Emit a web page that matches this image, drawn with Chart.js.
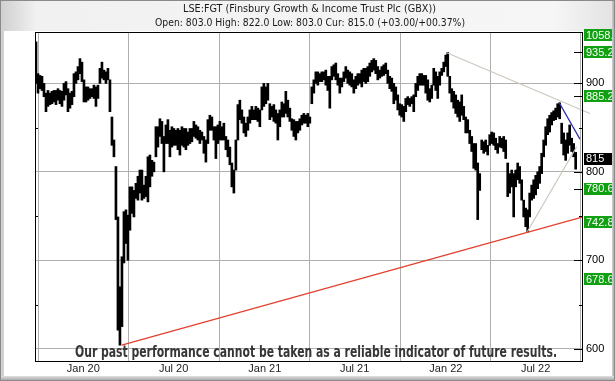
<!DOCTYPE html>
<html>
<head>
<meta charset="utf-8">
<script src="https://cdn.jsdelivr.net/npm/chart.js@4.4.0/dist/chart.umd.min.js"></script>
<style>
  html, body { margin: 0; padding: 0; background: #fff; }
  canvas { display: block; }
</style>
</head>
<body>
<canvas id="chart" width="615" height="381"></canvas>
<script>
// x = days from 1 Jan 2020, one high/low sample roughly every 4 days
const firstDay = -95.4;
const dayStep = 4.03;

const highs = [
  947,911,909,908,900,889,892,889,891,892,892,894,892,891,900,902,894,889,891,911,
  913,919,928,924,904,896,896,894,894,898,896,898,917,924,915,913,917,904,862,836,
  806,749,670,704,755,757,751,783,783,779,787,795,802,802,785,
  795,817,819,813,811,851,851,860,857,840,853,859,847,851,849,847,849,847,851,849,
  849,845,849,849,857,853,851,847,845,840,836,859,864,862,851,851,853,857,851,855,
  840,836,828,810,802,836,876,881,870,862,855,862,870,874,870,
  874,872,870,896,900,896,900,877,874,876,870,866,870,879,877,891,881,872,860,859,
  857,857,860,864,866,864,866,862,896,904,913,913,911,913,913,915,908,908,919,921,
  923,911,906,906,913,919,915,913,911,904,908,911,911,915,917,
  917,919,923,926,928,926,919,915,919,921,923,915,908,906,900,896,887,877,876,874,
  883,885,883,885,887,900,908,911,911,909,909,904,894,898,917,913,908,913,917,924,
  932,935,908,894,891,887,881,879,887,874,862,859,847,840,832,
  832,810,798,836,834,836,830,842,845,844,838,832,840,838,840,836,810,798,802,798,
  802,810,806,791,768,759,757,776,785,791,796,800,806,821,836,851,860,864,867,869,
  872,877,878,855,844,836,844,853,838,832,822
];
const lows = [
  900,889,894,892,885,868,874,876,877,879,876,881,877,874,881,887,868,872,876,885,
  900,904,911,902,879,879,881,883,885,883,874,883,900,906,904,900,904,868,830,817,
  746,621,604,625,697,719,700,734,753,749,770,768,776,768,770,
  772,766,783,795,800,817,828,840,832,800,832,832,817,828,830,830,825,819,830,828,
  825,830,832,834,840,838,836,832,836,821,811,832,847,847,836,815,832,836,836,836,
  825,817,808,783,776,802,836,859,855,844,840,847,855,859,859,
  859,857,851,870,874,877,881,859,862,857,855,836,851,862,862,866,862,857,847,840,
  836,844,847,853,855,855,851,855,877,889,900,898,902,902,904,898,892,872,904,908,
  904,898,889,896,902,906,900,898,896,889,894,898,900,896,902,
  900,902,908,913,915,911,904,906,908,909,911,900,894,891,877,881,870,864,862,857,
  868,876,874,877,868,885,892,898,898,898,889,881,879,883,898,892,883,898,909,913,
  919,908,889,879,872,866,862,857,864,859,844,844,832,823,804,
  802,746,779,825,821,823,819,830,832,830,825,821,828,827,823,815,772,776,783,749,
  783,791,787,768,749,738,732,749,768,770,774,781,787,798,817,830,842,845,853,858,
  859,862,860,832,819,813,821,830,823,817,803
];

const tickDays = [0, 182, 366, 547, 731, 912];
const tickLabels = ['Jan 20', 'Jul 20', 'Jan 21', 'Jul 21', 'Jan 22', 'Jul 22'];
const gridValues = [600, 700, 800, 900];
const minorValues = [650, 750, 850];

// trend lines: [day, price]
const supportLine = [[77.4, 604], [1007.5, 749]];
const upperLine = [[732.7, 934.6], [1021.6, 866]];
const risingLine = [[895.2, 732.3], [994.8, 828.4]];
const fallingLine = [[959.1, 878.5], [1001.4, 837]];

const levelValues = [1058.0, 935.25, 885.23, 780.67, 742.8, 678.6];
const levelLabels = ['1058.0', '935.25', '885.23', '780.67', '742.8', '678.6'];
const currentPrice = 815;

const titleText = 'LSE:FGT (Finsbury Growth & Income Trust Plc (GBX))';
const quoteText = 'Open: 803.0 High: 822.0 Low: 803.0 Cur: 815.0 (+03.00/+00.37%)';
const noteText = 'Our past performance cannot be taken as a reliable indicator of future results.';

const bars = highs.map((h, i) => ({ x: firstDay + i * dayStep, y: [lows[i], h] }));
const toPts = arr => arr.map(p => ({ x: p[0], y: p[1] }));

function fitText(ctx, text, cx, y, width, font, color) {
  ctx.font = font;
  const w = ctx.measureText(text).width;
  ctx.save();
  ctx.translate(cx, y);
  ctx.scale(width / w, 1);
  ctx.textAlign = 'center';
  ctx.textBaseline = 'alphabetic';
  ctx.fillStyle = color;
  ctx.fillText(text, 0, 0);
  ctx.restore();
}

const frame = {
  id: 'frame',
  beforeDraw(chart) {
    const { ctx, chartArea: a } = chart;
    ctx.save();
    const bg = ctx.createLinearGradient(0, 0, 615, 0);
    bg.addColorStop(0, '#cfcfcf');
    bg.addColorStop(0.06, '#f1f1f1');
    bg.addColorStop(0.9, '#f6f6f6');
    bg.addColorStop(1, '#e2e2e2');
    ctx.fillStyle = bg;
    ctx.fillRect(0, 0, 615, 381);
    ctx.fillStyle = '#ffffff';
    ctx.fillRect(4, 31, 608, 345);
    ctx.fillRect(a.left, a.top, a.right - a.left, a.bottom - a.top);
    ctx.restore();
  },
  afterDraw(chart) {
    const { ctx, chartArea: a, scales } = chart;
    const ys = scales.y, xs = scales.x;
    ctx.save();

    // plot border
    ctx.strokeStyle = '#000';
    ctx.lineWidth = 1;
    ctx.strokeRect(Math.round(a.left) + 0.5, Math.round(a.top) + 0.5,
      Math.round(a.right - a.left) - 1, Math.round(a.bottom - a.top) - 1);

    // ticks on the right and left edges
    ctx.beginPath();
    gridValues.concat([935.25, 885.23, 780.67]).forEach(v => {
      const y = Math.round(ys.getPixelForValue(v)) + 0.5;
      ctx.moveTo(a.right - 9, y); ctx.lineTo(a.right, y);
    });
    minorValues.forEach(v => {
      const y = Math.round(ys.getPixelForValue(v)) + 0.5;
      ctx.moveTo(a.right - 4, y); ctx.lineTo(a.right, y);
      ctx.moveTo(a.left, y); ctx.lineTo(a.left + 3, y);
    });
    ctx.stroke();

    // titles
    fitText(ctx, titleText, 309.5, 12, 253, '11px "DejaVu Sans"', '#1a1a1a');
    fitText(ctx, quoteText, 310, 26, 310, '11px "DejaVu Sans"', '#1a1a1a');

    // date labels
    ctx.font = '11px "Liberation Sans", Arial, sans-serif';
    ctx.fillStyle = '#222';
    ctx.textAlign = 'center';
    ctx.textBaseline = 'middle';
    tickDays.forEach((d, i) => ctx.fillText(tickLabels[i], xs.getPixelForValue(d), 369));

    // price labels
    ctx.textAlign = 'left';
    ctx.font = '11px "Liberation Sans", Arial, sans-serif';
    gridValues.forEach(v => {
      ctx.fillStyle = '#000';
      ctx.fillText(String(v), 586, ys.getPixelForValue(v));
    });
    const box = (v, label, color) => {
      const y = Math.max(ys.getPixelForValue(v), a.top + 3);
      ctx.fillStyle = color;
      ctx.fillRect(584, Math.round(y - 6), 31, 12);
      ctx.fillStyle = '#fff';
      ctx.fillText(label, 586, y + 0.5);
    };
    levelValues.forEach((v, i) => box(v, levelLabels[i], '#11a011'));
    box(currentPrice, String(currentPrice), '#000');

    // disclaimer
    fitText(ctx, noteText, 316, 357, 482, 'bold 16px "Liberation Sans Narrow", "DejaVu Sans Condensed", sans-serif', '#363636');

    // bevel strips
    const rg = ctx.createLinearGradient(612, 0, 615, 0);
    rg.addColorStop(0, '#d0d0d0');
    rg.addColorStop(1, '#9a9a9a');
    ctx.fillStyle = rg;
    ctx.fillRect(612, 0, 3, 381);
    const bg = ctx.createLinearGradient(0, 376, 0, 381);
    bg.addColorStop(0, '#e0e0e0');
    bg.addColorStop(1, '#a0a0a0');
    ctx.fillStyle = bg;
    ctx.fillRect(0, 376, 615, 5);
    ctx.strokeStyle = '#8a8a8a';
    ctx.strokeRect(0.5, 0.5, 614, 380);
    ctx.restore();
  }
};

const lineSet = (pts, color) => ({
  type: 'line',
  data: toPts(pts),
  borderColor: color,
  borderWidth: 1.2,
  pointRadius: 0,
  fill: false,
  tension: 0,
  clip: false,
  order: 1
});

new Chart(document.getElementById('chart'), {
  type: 'bar',
  data: {
    datasets: [
      lineSet(supportLine, '#e4402c'),
      lineSet(upperLine, '#cdc7be'),
      lineSet(risingLine, '#cdc7be'),
      lineSet(fallingLine, '#2c2cb0'),
      {
        type: 'bar',
        data: bars,
        backgroundColor: '#000',
        borderWidth: 0,
        barThickness: 2,
        order: 2
      }
    ]
  },
  options: {
    responsive: false,
    animation: false,
    events: [],
    layout: { padding: { left: 35, right: 32, top: 32, bottom: 19 } },
    plugins: { legend: { display: false }, tooltip: { enabled: false } },
    scales: {
      x: {
        type: 'linear',
        min: -97.4,
        max: 1007.5,
        offset: false,
        afterFit(s) { s.height = 0; },
        afterBuildTicks(s) { s.ticks = tickDays.map(v => ({ value: v })); },
        ticks: { display: false },
        grid: { color: '#b0b0b0', drawTicks: false },
        border: { display: false }
      },
      y: {
        min: 585,
        max: 958.1,
        afterFit(s) { s.width = 0; },
        afterBuildTicks(s) { s.ticks = gridValues.map(v => ({ value: v })); },
        ticks: { display: false },
        grid: { color: '#b0b0b0', drawTicks: false },
        border: { display: false }
      }
    }
  },
  plugins: [frame]
});
</script>
</body>
</html>
